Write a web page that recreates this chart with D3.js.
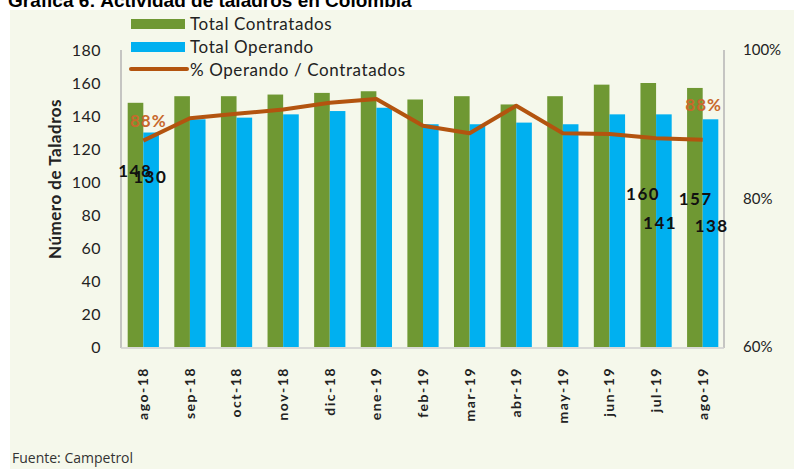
<html>
<head>
    <title>Actividad de taladros</title>
    <script src="https://d3js.org/d3.v7.min.js"></script>
    <style>
        body {
            margin: 0;
            background: white;
        }
        text {
            font-family: Lato, "Open Sans", sans-serif;
        }
    </style>
</head>
<body>
    <div id="chart"></div>

    <script type="text/javascript">
        // Data
        var months = ["ago-18", "sep-18", "oct-18", "nov-18", "dic-18", "ene-19", "feb-19",
                      "mar-19", "abr-19", "may-19", "jun-19", "jul-19", "ago-19"];
        var contratados = [148, 152, 152, 153, 154, 155, 150, 152, 147, 152, 159, 160, 157];
        var operando = [130, 138, 139, 141, 143, 145, 135, 135, 136, 135, 141, 141, 138];
        var pctOperando = [87.8, 90.8, 91.4, 92.0, 92.9, 93.4, 89.8, 88.8, 92.5, 88.8, 88.7, 88.1, 87.9];
        var leftTicks = [0, 20, 40, 60, 80, 100, 120, 140, 160, 180];
        var rightTicks = [60, 80, 100];

        var green = "#6f9833", blue = "#00b0f0", brown = "#b3540f", labelBrown = "#c8682c";

        var W = 794, H = 469;
        var svg = d3.select("#chart").append("svg")
            .attr("width", W)
            .attr("height", H);

        // cream panel
        svg.append("rect")
            .attr("x", 10).attr("y", 10)
            .attr("width", W - 10).attr("height", H - 10)
            .attr("fill", "#f5f8eb");

        // title, clipped at the top like the original
        svg.append("text")
            .attr("x", 8).attr("y", 7)
            .style("font-family", "'Liberation Sans', Arial, sans-serif")
            .style("font-weight", "bold")
            .style("font-size", "19px")
            .attr("fill", "#000")
            .text("Gráfica 6: Actividad de taladros en Colombia");

        // scales
        var x = d3.scaleBand().domain(months).range([120, 726]).paddingInner(0.33).paddingOuter(0.165);
        var xSub = d3.scaleBand().domain(["c", "o"]).range([0, x.bandwidth()]);
        var y = d3.scaleLinear().domain([0, 180]).range([347, 50]);
        var y2 = d3.scaleLinear().domain([60, 100]).range([347, 50]);
        function cx(m) { return x(m) + x.bandwidth() / 2; }

        // axis lines
        svg.append("line").attr("x1", 121).attr("x2", 121).attr("y1", 50).attr("y2", 348)
            .attr("stroke", "#b5b5b5").attr("stroke-width", 1.5);
        svg.append("line").attr("x1", 724).attr("x2", 724).attr("y1", 50).attr("y2", 348)
            .attr("stroke", "#b5b5b5").attr("stroke-width", 1.5);
        svg.append("line").attr("x1", 121).attr("x2", 724).attr("y1", 348).attr("y2", 348)
            .attr("stroke", "#cfcfcf").attr("stroke-width", 1.5);

        // bars
        svg.selectAll(".bar-c")
            .data(months)
          .enter().append("rect")
            .attr("x", function(d) { return x(d) + xSub("c"); })
            .attr("y", function(d, i) { return y(contratados[i]); })
            .attr("width", xSub.bandwidth())
            .attr("height", function(d, i) { return y(0) - y(contratados[i]); })
            .attr("fill", green);

        svg.selectAll(".bar-o")
            .data(months)
          .enter().append("rect")
            .attr("x", function(d) { return x(d) + xSub("o"); })
            .attr("y", function(d, i) { return y(operando[i]); })
            .attr("width", xSub.bandwidth())
            .attr("height", function(d, i) { return y(0) - y(operando[i]); })
            .attr("fill", blue);

        // percent line
        var line = d3.line()
            .x(function(d, i) { return cx(months[i]); })
            .y(function(d) { return y2(d); });
        svg.append("path")
            .datum(pctOperando)
            .attr("fill", "none")
            .attr("stroke", brown)
            .attr("stroke-width", 4)
            .attr("stroke-linejoin", "round")
            .attr("d", line);

        // left tick labels
        svg.selectAll(".ly")
            .data(leftTicks)
          .enter().append("text")
            .attr("x", 101)
            .attr("y", function(d) { return y(d); })
            .attr("dy", "0.35em")
            .attr("text-anchor", "end")
            .style("font-size", "16px")
            .style("letter-spacing", "0.5px")
            .attr("fill", "#222")
            .text(function(d) { return d; });

        // right tick labels
        svg.selectAll(".ry")
            .data(rightTicks)
          .enter().append("text")
            .attr("x", 743)
            .attr("y", function(d) { return y2(d); })
            .attr("dy", "0.35em")
            .style("font-size", "15px")
            .attr("fill", "#222")
            .text(function(d) { return d + "%"; });

        // month labels, rotated
        svg.selectAll(".mx")
            .data(months)
          .enter().append("text")
            .attr("transform", function(d) { return "translate(" + cx(d) + ",367) rotate(-90)"; })
            .attr("dy", "0.35em")
            .attr("text-anchor", "end")
            .style("font-size", "14px")
            .style("font-weight", "bold")
            .style("letter-spacing", "1.5px")
            .attr("fill", "#222")
            .text(function(d) { return d; });

        // y axis title
        svg.append("text")
            .attr("transform", "translate(61,179) rotate(-90)")
            .attr("text-anchor", "middle")
            .style("font-size", "17px")
            .style("font-weight", "bold")
            .style("letter-spacing", "0.5px")
            .attr("fill", "#222")
            .text("Número de Taladros");

        // value labels (placed where the original left them)
        var valueLabels = [
            {i: 0, v: contratados[0], dx: -8, yy: 177},
            {i: 0, v: operando[0], dx: 7, yy: 183},
            {i: 11, v: contratados[11], dx: -13, yy: 200},
            {i: 11, v: operando[11], dx: 4, yy: 229},
            {i: 12, v: contratados[12], dx: -7, yy: 205},
            {i: 12, v: operando[12], dx: 9, yy: 232}
        ];
        svg.selectAll(".vl")
            .data(valueLabels)
          .enter().append("text")
            .attr("x", function(d) { return cx(months[d.i]) + d.dx; })
            .attr("y", function(d) { return d.yy; })
            .attr("text-anchor", "middle")
            .style("font-size", "17px")
            .style("font-weight", "bold")
            .style("letter-spacing", "1.5px")
            .attr("fill", "#111")
            .text(function(d) { return d.v; });

        // percent labels at first and last month
        [0, 12].forEach(function(i) {
            svg.append("text")
                .attr("x", cx(months[i]) + (i == 0 ? 5 : 1))
                .attr("y", y2(pctOperando[i]) - (i == 0 ? 14 : 29))
                .attr("text-anchor", "middle")
                .style("font-size", "17px")
                .style("font-weight", "bold")
                .style("letter-spacing", "1px")
                .attr("fill", labelBrown)
                .text(Math.round(pctOperando[i]) + "%");
        });

        // legend
        var legend = svg.append("g");
        legend.append("rect").attr("x", 131).attr("y", 19).attr("width", 54).attr("height", 10).attr("fill", green);
        legend.append("rect").attr("x", 131).attr("y", 42).attr("width", 54).attr("height", 10).attr("fill", blue);
        legend.append("line").attr("x1", 131).attr("x2", 187).attr("y1", 69).attr("y2", 69)
            .attr("stroke", brown).attr("stroke-width", 4).attr("stroke-linecap", "round");
        var legendNames = ["Total Contratados", "Total Operando", "% Operando / Contratados"];
        legend.selectAll("text")
            .data(legendNames)
          .enter().append("text")
            .attr("x", 190)
            .attr("y", function(d, i) { return 24 + i * 23; })
            .attr("dy", "0.35em")
            .style("font-size", "17px")
            .style("letter-spacing", "0.6px")
            .attr("fill", "#222")
            .text(function(d) { return d; });

        // source
        svg.append("text")
            .attr("x", 12).attr("y", 463)
            .style("font-family", "'Open Sans', sans-serif")
            .style("font-size", "14px")
            .attr("fill", "#333")
            .text("Fuente: Campetrol");
    </script>
</body>
</html>
